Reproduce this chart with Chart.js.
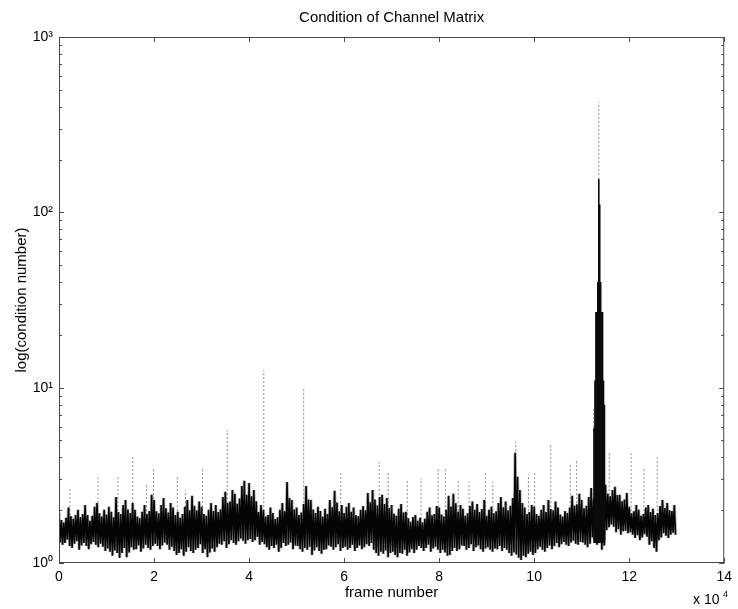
<!DOCTYPE html>
<html>
<head>
<meta charset="utf-8">
<script src="https://cdn.jsdelivr.net/npm/chart.js@4.4.1/dist/chart.umd.min.js"></script>
<style>
  html, body { margin: 0; padding: 0; background: #fff; }
  canvas { display: block; }
</style>
</head>
<body>
<canvas id="c" width="738" height="609"></canvas>
<script>
// Condition number of the channel matrix, summarised per block of 500 frames:
// upper and lower extent of the dense trace in each block.
const BIN = 500;

const bandHigh = [
  1.93,1.76,1.70,1.81,2.07,1.85,1.79,1.88,2.01,1.83,1.90,2.14,1.88,1.74,1.86,2.09,2.20,1.92,1.84,2.01,
  1.89,2.09,1.96,1.82,2.38,1.95,1.90,2.14,2.29,2.02,1.93,2.20,2.01,1.84,1.80,1.96,2.14,1.90,1.98,2.45,
  2.29,1.97,1.92,2.14,2.35,2.05,1.94,2.20,2.07,1.88,1.96,1.81,1.90,2.09,2.29,2.00,2.42,2.12,1.99,2.24,
  2.09,1.90,1.86,2.01,2.20,1.98,2.14,1.95,2.02,2.38,2.55,2.20,2.24,2.61,2.48,2.18,2.33,2.75,2.94,2.45,
  2.86,2.40,2.61,2.25,1.95,2.14,2.01,1.84,1.88,2.07,1.93,1.78,1.82,2.01,2.20,1.97,2.90,2.35,2.29,2.02,
  2.07,1.88,1.94,2.17,2.75,2.30,2.29,2.02,1.93,2.09,1.98,1.84,2.04,1.90,2.29,2.08,2.58,2.21,1.97,2.14,
  1.93,2.09,2.20,1.96,2.07,1.87,1.85,2.01,2.11,2.00,2.51,2.22,2.61,2.30,2.13,2.38,2.45,2.17,2.35,2.06,
  2.14,1.91,1.86,2.04,2.17,1.94,1.96,1.80,1.72,1.83,1.88,1.74,1.81,1.70,1.79,1.96,2.07,1.87,1.90,2.11,
  2.07,1.89,1.84,2.01,2.42,2.10,2.48,2.19,1.96,2.14,2.04,1.86,1.92,2.11,2.24,2.01,2.17,1.95,2.03,2.29,
  1.86,2.01,2.09,1.92,1.97,2.20,2.38,2.08,2.24,2.00,2.12,2.35,4.25,3.10,2.61,2.20,2.07,1.90,1.95,2.14,
  2.09,1.90,1.86,2.01,2.14,1.95,2.29,2.03,2.00,2.24,2.07,1.89,1.84,1.98,1.93,2.07,2.42,2.12,2.16,2.48,
  2.29,2.05,2.12,2.38,2.68,2.30,2.90,2.60,2.80,2.50,2.79,2.48,2.40,2.61,2.72,2.44,2.45,2.25,2.30,2.51,
  2.09,1.92,1.97,2.14,2.01,1.86,1.90,2.07,2.14,1.95,2.04,1.88,1.93,2.11,2.29,2.06,2.20,2.00,1.98,2.14
];

const bandLow = [
  1.31,1.27,1.30,1.36,1.25,1.22,1.29,1.33,1.19,1.26,1.30,1.25,1.20,1.28,1.32,1.27,1.23,1.29,1.24,1.17,
  1.21,1.16,1.10,1.18,1.14,1.07,1.14,1.22,1.08,1.15,1.23,1.19,1.20,1.26,1.16,1.21,1.27,1.22,1.19,1.25,
  1.29,1.25,1.20,1.26,1.31,1.27,1.19,1.24,1.17,1.11,1.14,1.20,1.10,1.16,1.23,1.17,1.14,1.19,1.22,1.28,
  1.14,1.20,1.08,1.15,1.21,1.16,1.23,1.29,1.27,1.33,1.22,1.28,1.35,1.30,1.27,1.33,1.38,1.34,1.29,1.35,
  1.37,1.32,1.35,1.41,1.27,1.32,1.28,1.23,1.19,1.25,1.22,1.27,1.16,1.22,1.30,1.25,1.27,1.31,1.20,1.26,
  1.25,1.20,1.16,1.22,1.19,1.24,1.11,1.18,1.23,1.17,1.13,1.19,1.20,1.26,1.24,1.19,1.23,1.28,1.17,1.22,
  1.24,1.19,1.22,1.27,1.17,1.22,1.26,1.20,1.23,1.28,1.25,1.30,1.19,1.14,1.10,1.16,1.13,1.18,1.08,1.14,
  1.16,1.11,1.08,1.14,1.13,1.19,1.10,1.15,1.20,1.14,1.19,1.25,1.22,1.17,1.22,1.27,1.16,1.21,1.24,1.19,
  1.14,1.19,1.15,1.10,1.11,1.17,1.22,1.17,1.20,1.26,1.25,1.19,1.22,1.28,1.17,1.23,1.26,1.20,1.16,1.21,
  1.23,1.19,1.16,1.21,1.20,1.25,1.17,1.22,1.19,1.14,1.10,1.15,1.12,1.07,1.04,1.10,1.08,1.13,1.16,1.11,
  1.14,1.20,1.24,1.19,1.16,1.22,1.26,1.20,1.25,1.30,1.23,1.28,1.32,1.27,1.25,1.31,1.34,1.29,1.27,1.32,
  1.31,1.27,1.23,1.29,1.40,1.35,1.27,1.32,1.19,1.26,1.54,1.60,1.66,1.61,1.50,1.56,1.45,1.52,1.53,1.48,
  1.50,1.45,1.39,1.44,1.35,1.40,1.46,1.41,1.27,1.33,1.22,1.16,1.35,1.40,1.48,1.43,1.39,1.45,1.49,1.45
];

// Isolated single-frame peaks (frame, condition number)
const spikeFrames = [
  2300, 8200, 12400, 15500, 18400, 19900, 24900, 26600, 30200, 35400,
  43100, 51500, 59300, 67400, 69300, 73300, 76200, 79800, 81300, 84000,
  86300, 89800, 91300, 96100, 98800, 100100, 103500, 107600, 108900, 112500,
  113600, 115800, 120400, 123100, 125900
];
const spikePeaks = [
  2.68, 3.18, 3.10, 4.00, 2.80, 3.50, 3.10, 2.60, 3.54, 5.75,
  12.6, 10.0, 3.27, 3.78, 3.30, 3.00, 3.06, 3.50, 3.50, 3.00,
  2.90, 3.30, 2.90, 4.90, 3.20, 3.30, 4.70, 3.63, 3.90, 7.70,
  424, 4.25, 4.30, 3.50, 4.00
];
const SPIKE_BASE = 1.6;

// Ill-conditioned burst around frame 113,000
const burstFrames = [112600, 112800, 113000, 113200, 113400, 113600, 113800, 114000, 114200, 114400, 114600, 114800];
const burstTops   = [5.9, 11, 27, 27, 40, 155, 111, 40, 27, 27, 11, 8];
const BURST_BASE = 1.3;

const xTicks = [0, 20000, 40000, 60000, 80000, 100000, 120000, 140000];
const yTicks = [1, 10, 100, 1000];
const yTickLabels = ['10\u2070', '10\u00b9', '10\u00b2', '10\u00b3'];

const titleText = 'Condition of Channel Matrix';
const xLabel = 'frame number';
const yLabel = 'log(condition number)';

// Zigzag through the block extents; vertical strokes for isolated peaks
const bandPoints = [];
bandHigh.forEach((hi, i) => {
  bandPoints.push({ x: i * BIN, y: hi });
  bandPoints.push({ x: i * BIN + BIN / 2, y: bandLow[i] });
});

function strokes(frames, tops, base) {
  const pts = [];
  frames.forEach((f, i) => {
    pts.push({ x: f, y: base });
    pts.push({ x: f, y: tops[i] });
    pts.push({ x: f, y: null });
  });
  return pts;
}

const FONT = '"Liberation Sans", Arial, Helvetica, sans-serif';

const framePlugin = {
  id: 'axesFrame',
  afterDraw(chart) {
    const { ctx, chartArea: a, scales: { x, y } } = chart;
    ctx.save();
    ctx.strokeStyle = '#4a4a4a';
    ctx.lineWidth = 1;
    ctx.strokeRect(a.left + 0.5, a.top + 0.5, a.right - a.left - 1, a.bottom - a.top - 1);

    ctx.beginPath();
    xTicks.forEach(v => {
      const px = Math.round(x.getPixelForValue(v)) + 0.5;
      ctx.moveTo(px, a.bottom); ctx.lineTo(px, a.bottom - 5);
      ctx.moveTo(px, a.top); ctx.lineTo(px, a.top + 5);
    });
    [1, 10, 100].forEach(d => {
      for (let m = 1; m <= 9; m++) {
        const py = Math.round(y.getPixelForValue(d * m)) + 0.5;
        const len = m === 1 ? 5 : 3;
        ctx.moveTo(a.left, py); ctx.lineTo(a.left + len, py);
        ctx.moveTo(a.right, py); ctx.lineTo(a.right - len, py);
      }
    });
    ctx.stroke();

    ctx.fillStyle = '#000';
    ctx.font = '15px ' + FONT;
    ctx.textAlign = 'center';
    ctx.textBaseline = 'middle';
    const cx = (a.left + a.right) / 2;
    ctx.fillText(titleText, cx, 18);
    ctx.fillText(xLabel, cx, 593);

    ctx.save();
    ctx.translate(22, (a.top + a.bottom) / 2);
    ctx.rotate(-Math.PI / 2);
    ctx.fillText(yLabel, 0, 0);
    ctx.restore();

    ctx.textAlign = 'left';
    ctx.font = '14px ' + FONT;
    ctx.fillText('x 10', 693, 600);
    ctx.font = '9px ' + FONT;
    ctx.fillText('4', 723, 595);
    ctx.restore();
  }
};

new Chart(document.getElementById('c'), {
  type: 'line',
  data: {
    datasets: [
      {
        label: 'burst',
        data: strokes(burstFrames, burstTops, BURST_BASE),
        borderColor: '#0a0a0a',
        borderWidth: 1.6,
        pointRadius: 0,
        spanGaps: false,
        order: 1
      },
      {
        label: 'condition number',
        data: bandPoints,
        borderColor: '#050505',
        borderWidth: 1.6,
        borderJoinStyle: 'bevel',
        pointRadius: 0,
        order: 2
      },
      {
        label: 'condition number (halo)',
        data: bandPoints,
        borderColor: 'rgba(60,60,60,0.4)',
        borderWidth: 3.2,
        borderJoinStyle: 'bevel',
        pointRadius: 0,
        order: 3
      },
      {
        label: 'peaks',
        data: strokes(spikeFrames, spikePeaks, SPIKE_BASE),
        borderColor: '#8c8c8c',
        borderWidth: 1,
        borderDash: [2, 2],
        pointRadius: 0,
        spanGaps: false,
        order: 4
      }
    ]
  },
  options: {
    responsive: false,
    animation: false,
    devicePixelRatio: 1,
    layout: { padding: { left: 0, right: 11, top: 37, bottom: 0 } },
    plugins: { legend: { display: false }, tooltip: { enabled: false }, title: { display: false } },
    elements: { line: { tension: 0 } },
    scales: {
      x: {
        type: 'linear',
        min: 0,
        max: 140000,
        grid: { display: false, drawTicks: false },
        border: { display: false },
        afterBuildTicks: s => { s.ticks = xTicks.map(v => ({ value: v })); },
        afterFit: s => { s.height = 46; },
        ticks: {
          autoSkip: false,
          maxRotation: 0,
          padding: 6,
          color: '#000',
          font: { family: FONT, size: 14 },
          callback: v => String(v / 10000)
        }
      },
      y: {
        type: 'logarithmic',
        min: 1,
        max: 1000,
        grid: { display: false, drawTicks: false },
        border: { display: false },
        afterBuildTicks: s => { s.ticks = yTicks.map(v => ({ value: v })); },
        afterFit: s => { s.width = 59; },
        ticks: {
          autoSkip: false,
          padding: 6,
          color: '#000',
          font: { family: FONT, size: 14 },
          callback: v => yTickLabels[yTicks.indexOf(v)]
        }
      }
    }
  },
  plugins: [framePlugin]
});
</script>
</body>
</html>
